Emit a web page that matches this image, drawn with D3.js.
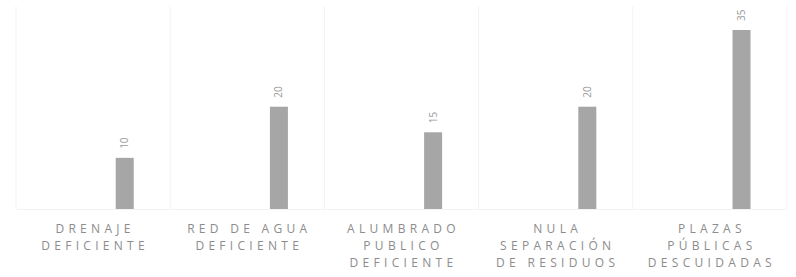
<!DOCTYPE html>
<html>
<head>
<meta charset="utf-8">
<script src="https://cdn.jsdelivr.net/npm/d3@7"></script>
<style>
  body { margin: 0; background: #fff; }
  text { font-family: "Open Sans", sans-serif; }
</style>
</head>
<body>
<div id="chart"></div>
<script>
(function () {
    var width = 796,
        height = 277;

    // data
    var categories = ["DRENAJE DEFICIENTE", "RED DE AGUA DEFICIENTE", "ALUMBRADO PUBLICO DEFICIENTE",
        "NULA SEPARACIÓN DE RESIDUOS", "PLAZAS PÚBLICAS DESCUIDADAS"];
    var values = [10, 20, 15, 20, 35];

    var baseY = 209;

    var svg = d3.select("#chart").append("svg")
        .attr("width", width)
        .attr("height", height)

    var x = d3.scaleBand().domain(categories).range([16, 787]).padding(0)
    var y = d3.scaleLinear().domain([0, 35]).range([baseY, 30])

    // faint column separators
    svg.selectAll(".sep")
        .data(d3.range(categories.length + 1))
        .enter().append("line")
        .attr("class", "sep")
        .attr("x1", function (i) { return 16 + i * x.bandwidth() })
        .attr("x2", function (i) { return 16 + i * x.bandwidth() })
        .attr("y1", 6)
        .attr("y2", baseY)
        .attr("stroke", "#f3f3f3")
        .attr("stroke-width", 1)

    svg.append("line")
        .attr("x1", 16).attr("x2", 787)
        .attr("y1", baseY + 0.5).attr("y2", baseY + 0.5)
        .attr("stroke", "#f3f3f3")

    var barW = 18;
    function barX(d) {
        return x(d) + x.bandwidth() * 0.705 - barW / 2
    }

    svg.selectAll(".bar")
        .data(categories)
        .enter().append("rect")
        .attr("class", "bar")
        .attr("x", barX)
        .attr("y", function (d, i) { return y(values[i]) })
        .attr("width", barW)
        .attr("height", function (d, i) { return baseY - y(values[i]) })
        .attr("fill", "#a6a6a6")

    svg.selectAll(".val")
        .data(categories)
        .enter().append("text")
        .attr("class", "val")
        .attr("transform", function (d, i) {
            return "translate(" + (barX(d) + barW / 2 + 3.5) + "," + (y(values[i]) - 9) + ") rotate(-90)"
        })
        .attr("text-anchor", "start")
        .attr("font-size", 10)
        .attr("fill", "#999")
        .text(function (d, i) { return values[i] })

    // category labels, word wrapped
    var labels = svg.selectAll(".cat")
        .data(categories)
        .enter().append("text")
        .attr("class", "cat")
        .attr("text-anchor", "middle")
        .attr("font-size", 12)
        .attr("letter-spacing", "4.3px")
        .attr("fill", "#8c8c8c")
        .attr("x", function (d) { return x(d) + x.bandwidth() / 2 })
        .attr("y", 233)

    labels.each(function (d) {
        var el = d3.select(this);
        var cx = x(d) + x.bandwidth() / 2;
        var words = d.split(" "), lines = [], line = [];
        var probe = el.append("tspan");
        words.forEach(function (w) {
            line.push(w);
            probe.text(line.join(" "));
            if (probe.node().getComputedTextLength() > 145 && line.length > 1) {
                line.pop();
                lines.push(line.join(" "));
                line = [w];
            }
        });
        lines.push(line.join(" "));
        probe.remove();
        lines.forEach(function (l, i) {
            el.append("tspan")
                .attr("x", cx + 2)
                .attr("y", 233 + i * 17)
                .text(l)
        });
    });
})();
</script>
</body>
</html>
